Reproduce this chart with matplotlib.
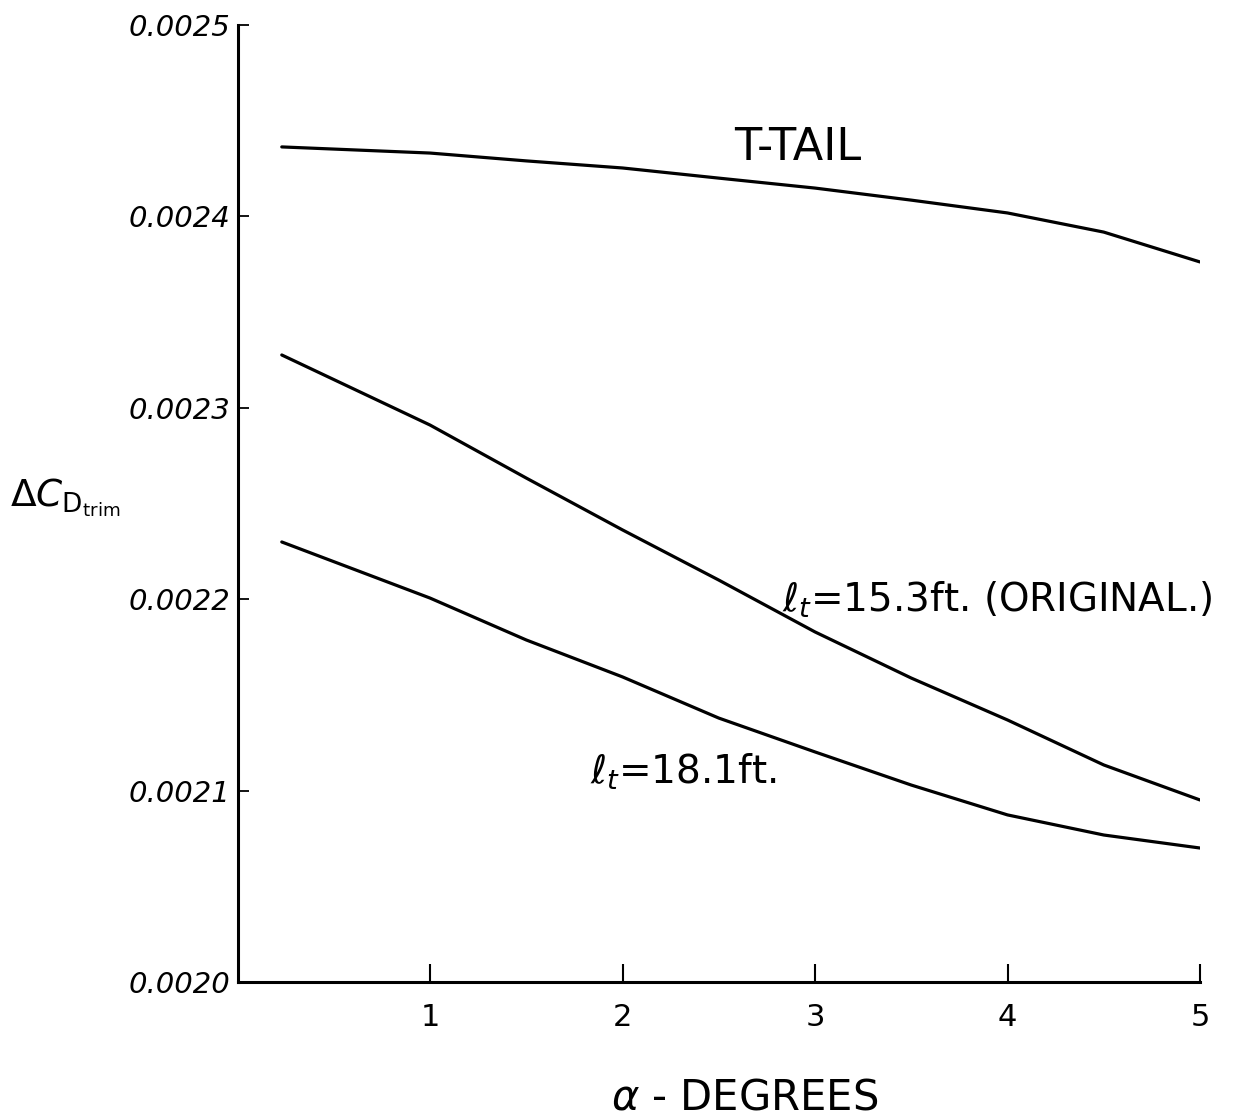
import matplotlib
matplotlib.use("Agg")
import matplotlib.pyplot as plt

# Angle of attack (degrees) at which each curve was read
alpha = [0.23, 1.0, 1.5, 2.0, 2.5, 3.0, 3.5, 4.0, 4.5, 5.0]

# Trim drag increment for each tail configuration
t_tail = [0.0024363, 0.0024331, 0.0024290, 0.0024253, 0.0024200, 0.0024148,
          0.0024085, 0.0024018, 0.0023918, 0.0023762]
lt_15_3 = [0.0023276, 0.0022910, 0.0022633, 0.0022362, 0.0022100, 0.0021829,
           0.0021588, 0.0021369, 0.0021134, 0.0020951]
lt_18_1 = [0.0022299, 0.0022006, 0.0021787, 0.0021594, 0.0021379, 0.0021202,
           0.0021029, 0.0020873, 0.0020768, 0.0020700]

x_ticks = [1, 2, 3, 4, 5]
x_tick_labels = ["1", "2", "3", "4", "5"]
y_ticks = [0.0020, 0.0021, 0.0022, 0.0023, 0.0024, 0.0025]
y_tick_labels = ["0.0020", "0.0021", "0.0022", "0.0023", "0.0024", "0.0025"]

plt.rcParams["font.family"] = ["DejaVu Sans"]

fig = plt.figure(figsize=(12.36, 11.18), dpi=100)
ax = fig.add_axes([237.5 / 1236, 136 / 1118, (1200 - 237.5) / 1236, (982 - 25) / 1118])

for series in (t_tail, lt_15_3, lt_18_1):
    ax.plot(alpha, series, color="black", linewidth=2.3, solid_capstyle="round")

ax.set_xlim(0, 5)
ax.set_ylim(0.0020, 0.0025)

for side in ("top", "right"):
    ax.spines[side].set_visible(False)
for side in ("left", "bottom"):
    ax.spines[side].set_linewidth(2.2)
    ax.spines[side].set_color("black")
ax.spines["left"].set_bounds(0.0020, 0.0025)

ax.set_xticks(x_ticks)
ax.set_xticklabels(x_tick_labels, fontsize=22)
ax.set_yticks(y_ticks)
ax.set_yticklabels(y_tick_labels, fontsize=21, fontstyle="italic")
ax.tick_params(axis="x", direction="in", length=13, width=1.5, pad=15)
ax.tick_params(axis="y", direction="in", length=8, width=1.3, pad=5)

ax.text(2.91, 0.002436, "T-TAIL", fontsize=32, ha="center", va="center")
ax.text(2.83, 0.0021996, r"$\ell_t$=15.3ft. (ORIGINAL.)", fontsize=28,
        ha="left", va="center")
ax.text(1.83, 0.002110, r"$\ell_t$=18.1ft.", fontsize=28, ha="left", va="center")

fig.text(10 / 1236, 1 - 498 / 1118, r"$\Delta C_{\mathrm{D}_{\mathrm{trim}}}$",
         fontsize=27, ha="left", va="center")
fig.text(745 / 1236, 1 - 1097 / 1118, r"$\alpha$ - DEGREES", fontsize=30,
         ha="center", va="center")

fig.savefig("out.png", dpi=100, facecolor="white")
